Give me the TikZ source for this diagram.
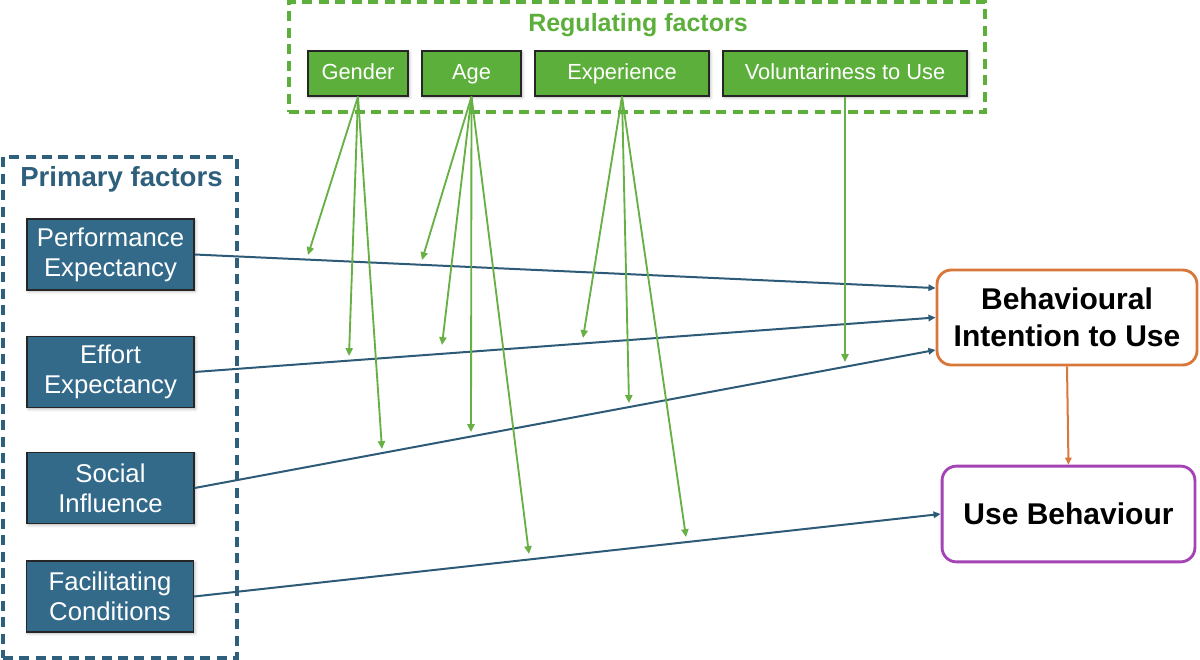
\documentclass[tikz,border=0pt]{standalone}
\usepackage{fontspec}
\setmainfont{Liberation Sans}
\usetikzlibrary{arrows.meta,positioning,fit,shadows.blur}
\definecolor{regfill}{HTML}{5DAF3C}
\definecolor{reggreen}{HTML}{66B044}
\definecolor{primfill}{HTML}{336A8A}
\definecolor{primdark}{HTML}{2E5F7C}
\definecolor{linkblue}{HTML}{2D5A76}
\definecolor{intent}{HTML}{D9773A}
\definecolor{usage}{HTML}{A443B6}
\tikzset{
  factor/.style={draw=black!85, line width=0.9pt, fill=primfill, minimum width=116.9pt,
                 minimum height=49.7pt, inner sep=0pt, align=center,
                 font=\fontsize{18}{21}\selectfont\color{white},
                 blur shadow={shadow blur steps=4, shadow xshift=1pt, shadow yshift=-1pt, shadow opacity=30}},
  moder/.style={draw=black!85, line width=0.9pt, fill=regfill, minimum height=31.5pt,
                inner sep=0pt, text height=11.5pt, text depth=3.5pt,
                font=\fontsize{15.3}{18}\selectfont\color{white},
                blur shadow={shadow blur steps=4, shadow xshift=1pt, shadow yshift=-1pt, shadow opacity=30}},
  outcome/.style={rounded corners=10pt, line width=2pt, fill=white, inner sep=0pt,
                  align=center, font=\fontsize{21}{26}\selectfont\bfseries},
  link/.style={-{Triangle[length=5pt,width=4.5pt]}, line width=1.4pt, draw=linkblue},
  modlink/.style={-{Triangle[length=5.5pt,width=5pt]}, line width=1.3pt, draw=reggreen},
  regsect/.style={draw=regfill, dash pattern=on 7pt off 4.5pt, line width=2.3pt, inner sep=0pt},
  primsect/.style={draw=primdark, dash pattern=on 7pt off 4.5pt, line width=2.3pt, inner sep=0pt}
}
\begin{document}
\begin{tikzpicture}[x=0.7pt, y=-0.7pt]
  \useasboundingbox (0,0) rectangle (1200,660);

  %% Regulating factors
  \coordinate (r1) at (289,2);
  \coordinate (r2) at (985,112);
  \node[regsect, fit=(r1)(r2)] (regbox) {};
  \node[anchor=base, font=\fontsize{17.5}{20}\selectfont\bfseries\color{regfill}]
       (regtitle) at (638,32) {Regulating factors};
  \node[moder, minimum width=70pt]    (gender) at (358,73.5)   {Gender};
  \node[moder, minimum width=69.3pt]  (age)    at (471.5,73.5) {Age};
  \node[moder, minimum width=121.8pt] (exper)  at (622,73.5)   {Experience};
  \node[moder, minimum width=170.8pt] (volunt) at (845,73.5)   {Voluntariness to Use};

  %% Primary factors
  \coordinate (p1) at (3,157);
  \coordinate (p2) at (237,658);
  \node[primsect, fit=(p1)(p2)] (primbox) {};
  \node[anchor=base, font=\fontsize{19.3}{22}\selectfont\bfseries\color{primdark}]
       (primtitle) at (121.5,187) {Primary factors};
  \node[factor] (pe) at (110.5,254.5) {Performance\\Expectancy};
  \node[factor] (ee) at (110.5,372)   {Effort\\Expectancy};
  \node[factor] (si) at (110.5,488)   {Social\\Influence};
  \node[factor] (fc) at (110,596.5)   {Facilitating\\Conditions};

  %% Outcomes
  \node[outcome, draw=intent, minimum width=182pt, minimum height=66.5pt]
       (bi) at (1067,317.5) {Behavioural\\Intention to Use};
  \node[outcome, draw=usage, minimum width=177pt, minimum height=67pt]
       (ub) at (1068.5,514) {Use Behaviour};

  \draw[link] (pe.east) -- ([yshift=20.6pt]bi.west);
  \draw[link] (ee.east) -- (bi.west);
  \draw[link] (si.east) -- ([yshift=-22.7pt]bi.west);
  \draw[link] (fc.east) -- (ub.west);
  \draw[-{Triangle[length=5pt,width=4.5pt]}, line width=1.4pt, draw=intent] (bi.south) -- (ub.north);

  %% moderating arrows
  \coordinate (g1) at (308,255);
  \coordinate (g2) at (349,356);
  \coordinate (g3) at (382,449);
  \coordinate (a1) at (422,260);
  \coordinate (a2) at (442,345);
  \coordinate (a3) at (471,432);
  \coordinate (a4) at (529,554);
  \coordinate (e1) at (583,338);
  \coordinate (e2) at (629,403);
  \coordinate (e3) at (686,537);
  \coordinate (v1) at (845,362);
  \foreach \t in {g1,g2,g3} \draw[modlink] (gender.south) -- (\t);
  \foreach \t in {a1,a2,a3,a4} \draw[modlink] (age.south) -- (\t);
  \foreach \t in {e1,e2,e3} \draw[modlink] (exper.south) -- (\t);
  \draw[modlink] (volunt.south) -- (v1);
\end{tikzpicture}
\end{document}
